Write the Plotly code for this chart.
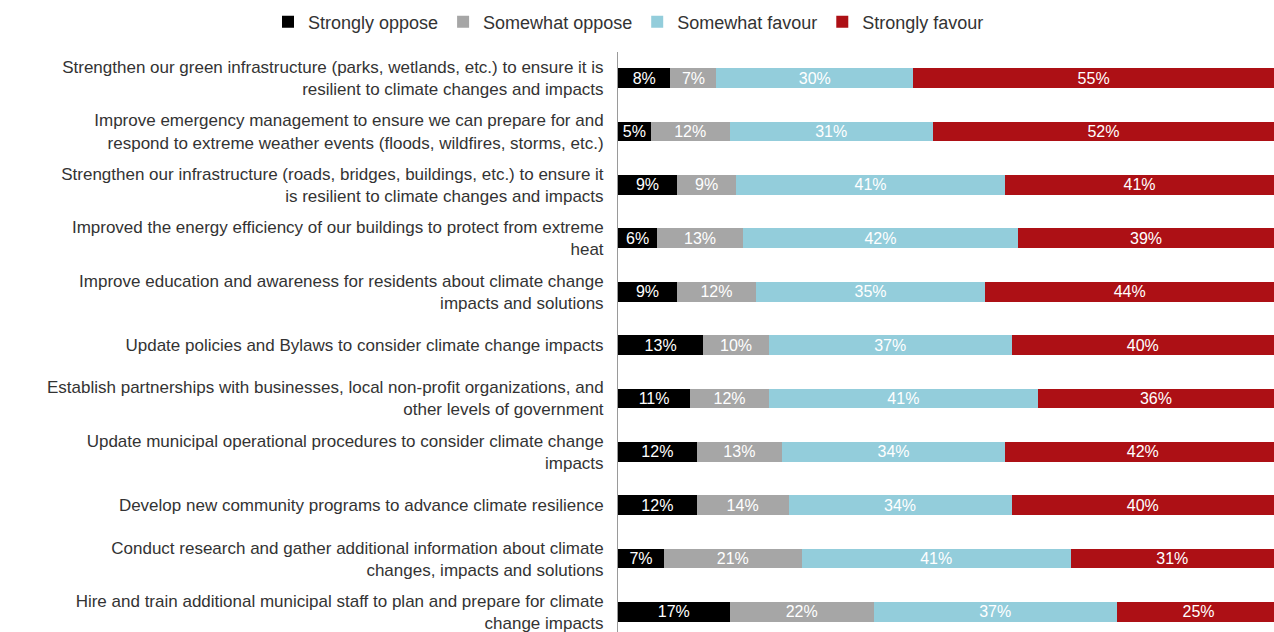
import plotly.graph_objects as go

categories = [
    "Strengthen our green infrastructure (parks, wetlands, etc.) to ensure it is<br>resilient to climate changes and impacts",
    "Improve emergency management to ensure we can prepare for and<br>respond to extreme weather events (floods, wildfires, storms, etc.)",
    "Strengthen our infrastructure (roads, bridges, buildings, etc.) to ensure it<br>is resilient to climate changes and impacts",
    "Improved the energy efficiency of our buildings to protect from extreme<br>heat",
    "Improve education and awareness for residents about climate change<br>impacts and solutions",
    "Update policies and Bylaws to consider climate change impacts",
    "Establish partnerships with businesses, local non-profit organizations, and<br>other levels of government",
    "Update municipal operational procedures to consider climate change<br>impacts",
    "Develop new community programs to advance climate resilience",
    "Conduct research and gather additional information about climate<br>changes, impacts and solutions",
    "Hire and train additional municipal staff to plan and prepare for climate<br>change impacts",
]

strongly_oppose = [8, 5, 9, 6, 9, 13, 11, 12, 12, 7, 17]
somewhat_oppose = [7, 12, 9, 13, 12, 10, 12, 13, 14, 21, 22]
somewhat_favour = [30, 31, 41, 42, 35, 37, 41, 34, 34, 41, 37]
strongly_favour = [55, 52, 41, 39, 44, 40, 36, 42, 40, 31, 25]

series = [
    ("Strongly oppose", strongly_oppose, "#000000"),
    ("Somewhat oppose", somewhat_oppose, "#a6a6a6"),
    ("Somewhat favour", somewhat_favour, "#93cddb"),
    ("Strongly favour", strongly_favour, "#ad1015"),
]

pos = list(range(len(categories)))
FONT = "Liberation Sans, Arial, sans-serif"

L, T, W, H = 618, 52, 656, 580

fig = go.Figure()
for name, vals, col in series:
    fig.add_trace(go.Bar(
        y=pos, x=vals, name=name, orientation="h",
        marker=dict(color=col, line=dict(width=0)),
        text=[f"{v}%" for v in vals], textposition="inside",
        insidetextanchor="middle", constraintext="none",
        textfont=dict(color="white", size=16, family=FONT),
        width=0.37,
    ))

fig.update_layout(
    barmode="stack",
    width=1274, height=632,
    margin=dict(l=L, r=0, t=T, b=0),
    paper_bgcolor="white", plot_bgcolor="white",
    font=dict(family=FONT, size=17, color="#333333"),
    uniformtext=dict(mode="show", minsize=16),
    legend=dict(
        orientation="h", xref="paper", yref="paper",
        x=(268 - L) / W, xanchor="left",
        y=1 + (T - 22) / H, yanchor="middle",
        font=dict(size=18, color="#333333", family=FONT),
        itemwidth=30, traceorder="normal",
        bgcolor="rgba(0,0,0,0)",
    ),
    showlegend=True,
)
fig.update_xaxes(range=[0, 100], visible=False, fixedrange=True)
fig.update_yaxes(
    tickvals=pos, ticktext=categories,
    range=[10.375, -0.49], autorange=False,
    showline=True, linecolor="#9a9a9a", linewidth=1,
    showgrid=False, zeroline=False,
    ticks="", ticklabelstandoff=10, ticklabeloverflow="allow",
    tickfont=dict(size=17, color="#333333", family=FONT),
)

fig.write_html("out.html")
